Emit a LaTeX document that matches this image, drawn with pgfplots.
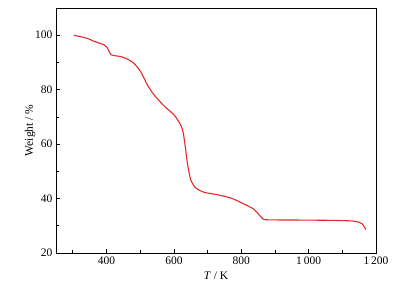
\documentclass[border=0pt]{standalone}
\usepackage{fontspec}
\setmainfont{Liberation Serif}
\usepackage{pgfplots}
\pgfplotsset{compat=1.18}
\definecolor{curvered}{RGB}{232,40,40}
\begin{document}
\begin{tikzpicture}
\begin{axis}[
  name=ax,
  scale only axis,
  width=320pt, height=245pt,
  xmin=250, xmax=1200, ymin=20, ymax=110,
  xtick={400,600,800,1000,1200},
  ytick={20,40,60,80,100},
  minor xtick={300,500,700,900,1100},
  minor ytick={30,50,70,90},
  tick align=inside,
  xtick pos=bottom, ytick pos=left,
  major tick length=4pt, minor tick length=3pt,
  axis line style={line width=0.9pt},
  every tick/.style={black, line width=0.7pt},
  /pgf/number format/assume math mode=true,
  /pgf/number format/1000 sep={\,},
  tick label style={font=\fontsize{11.5}{13}\selectfont},
  label style={font=\fontsize{11.5}{13}\selectfont},
  xlabel={\textit{T} / K},
  ylabel={Weight / \%},
  xlabel style={yshift=-1pt},
  ylabel style={yshift=-7pt},
]
\addplot[curvered, line width=1.1pt, smooth, tension=0.4] coordinates {
(303,100) (342,98.9) (362,97.8) (392,96.5) (402,95.5) (414,92.8)
(441,92.2) (461,91.3) (481,89.7) (501,86.7) (521,81.8) (541,78.1)
(570,74.1) (600,70.8) (620,67.1) (628,64.0) (635,57.9) (640,53)
(650,46.9) (665,43.9) (690,42.3) (729,41.4) (769,40.2) (798,38.6)
(837,36.1) (862,32.8) (877,32.2) (976,32.1) (1060,32.0) (1125,31.8)
(1150,31.3) (1160,30.6) (1170,28.6)
};
\end{axis}
\path ([xshift=-56pt,yshift=-30pt]ax.south west) rectangle ([xshift=29pt,yshift=8pt]ax.north east);
\end{tikzpicture}
\end{document}
